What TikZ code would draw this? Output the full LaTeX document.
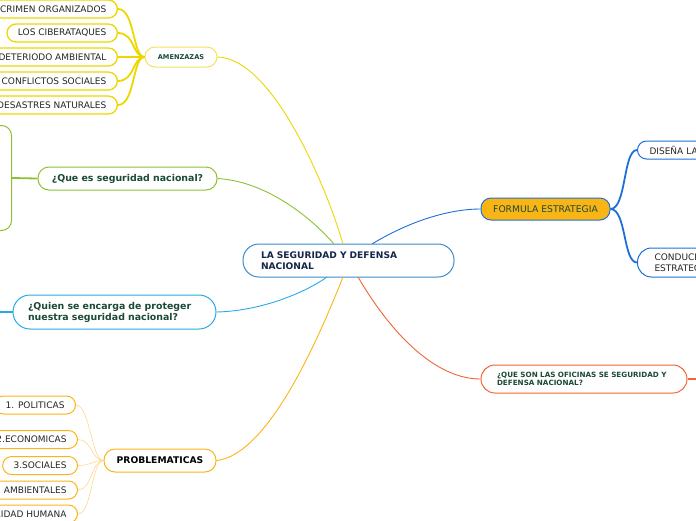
\documentclass[tikz,border=0pt]{standalone}
\usepackage{fontspec}
\setmainfont{DejaVu Sans}
\usetikzlibrary{positioning}

\definecolor{txtgreen}{HTML}{1B4A36}
\definecolor{txtnavy}{HTML}{16264A}
\definecolor{rootblue}{HTML}{3A8CCC}
\definecolor{amyellow}{HTML}{EED600}
\definecolor{amlight}{HTML}{F4E15A}
\definecolor{leafgreen}{HTML}{8CC232}
\definecolor{skyblue}{HTML}{2AAAE2}
\definecolor{proborange}{HTML}{FBB417}
\definecolor{problight}{HTML}{FFD68C}
\definecolor{redorange}{HTML}{F26434}
\definecolor{deepblue}{HTML}{1E6FD9}
\definecolor{formfill}{HTML}{F9B515}

\begin{document}
\begin{tikzpicture}[
	  x=1pt, y=-1pt,
	  box/.style={rectangle, rounded corners=#1, draw, fill=white, line width=1pt, inner ysep=0pt},
	  box/.default=9pt,
	  root/.style={box=16pt, draw=rootblue, minimum width=211pt, minimum height=33pt, inner xsep=18pt, text width=175pt, align=left, font=\fontsize{9.1}{11}\selectfont\bfseries, text=txtnavy},
	  amenleaf/.style={box, draw=amyellow, line width=1.3pt, minimum height=18pt, inner xsep=11pt, anchor=east, font=\fontsize{9}{10}\selectfont, text=black!85},
	  probleaf/.style={box, draw=proborange, minimum height=18pt, inner xsep=11pt, anchor=east, font=\fontsize{9}{10}\selectfont, text=black!85},
	  blueleaf/.style={box, draw=deepblue, anchor=west, align=left, font=\fontsize{9}{11}\selectfont, text=black!85},
	  branch/.style={line width=0.9pt},
	  twig/.style={line width=1.8pt}
	]

	\useasboundingbox (0,0) rectangle (696,520);
	\clip (0,0) rectangle (696,520);

	% central topic
	\node (root) [root] at (348.5,260.5) {LA SEGURIDAD Y DEFENSA\\NACIONAL};
	\coordinate (rootA) at (343,244);
	\coordinate (rootB) at (334,244);
	\coordinate (rootC) at (327,277);
	\coordinate (rootD) at (343,277);
	\coordinate (rootE) at (358,277);
	\coordinate (rootF) at (372,244);

	% amenazas
	\node (amen) [box=10pt, draw=amlight, minimum width=72pt, minimum height=20pt, font=\fontsize{6.6}{8}\selectfont\bfseries, text=txtgreen] at (181,57) {AMENZAZAS};
	\node (crimen) [amenleaf] at (118,9) {CRIMEN ORGANIZADOS};
	\node (ciber) [amenleaf] at (118,33) {LOS CIBERATAQUES};
	\node (deter) [amenleaf] at (118,57) {DETERIODO AMBIENTAL};
	\node (confl) [amenleaf] at (118,81) {CONFLICTOS SOCIALES};
	\node (desas) [amenleaf] at (118,105) {DESASTRES NATURALES};

	% que es
	\node (que) [box=11pt, draw=leafgreen, minimum width=179pt, minimum height=23pt, font=\fontsize{9.4}{11}\selectfont\bfseries, text=txtgreen] at (127.5,178.5) {¿Que es seguridad nacional?};
	\node (queinfo) [box=10pt, draw=leafgreen, anchor=east, minimum width=60pt, minimum height=105pt] at (12,178) {};

	% quien
	\node (quien) [box=17pt, draw=skyblue, minimum width=203pt, minimum height=34pt, inner xsep=15pt, text width=173pt, align=left, font=\fontsize{9.4}{11}\selectfont\bfseries, text=txtgreen] at (114.5,312) {¿Quien se encarga de proteger\\nuestra seguridad nacional?};
	\coordinate (quienout) at (-20,312);

	% problematicas
	\node (prob) [box=11pt, draw=proborange, minimum width=112pt, minimum height=23pt, font=\fontsize{9.2}{11}\selectfont\bfseries, text=black] at (160,460.5) {PROBLEMATICAS};
	\node (polit) [probleaf] at (76,405) {1. POLITICAS};
	\node (econ) [probleaf] at (78,439.5) {2.ECONOMICAS};
	\node (soci) [probleaf] at (78,465.5) {3.SOCIALES};
	\node (ambi) [probleaf] at (78,490) {4. AMBIENTALES};
	\node (huma) [probleaf] at (78,514) {5. SEGURIDAD HUMANA};

	% formula estrategia
	\node (formula) [box=10pt, draw=deepblue, fill=formfill, minimum width=129pt, minimum height=22pt, font=\fontsize{9.2}{11}\selectfont, text=txtgreen] at (545.5,209) {FORMULA ESTRATEGIA};
	\node (disena) [blueleaf, minimum height=18pt, inner xsep=12pt, text width=100pt] at (637,150) {DISEÑA LA};
	\node (conduce) [blueleaf, box=14pt, minimum height=29pt, inner xsep=17pt, text width=100pt] at (637,262.5) {CONDUCE\\ESTRATEGIA};

	% oficinas
	\node (ofic) [box=14pt, draw=redorange, minimum width=206pt, minimum height=28pt, inner xsep=16pt, text width=174pt, align=left, font=\fontsize{7.2}{8.6}\selectfont\bfseries, text=txtgreen] at (584,379) {¿QUE SON LAS OFICINAS SE SEGURIDAD Y\\DEFENSA NACIONAL?};
	\coordinate (oficout) at (720,379);

	% connectors to the central topic
	\draw [branch, amyellow] (amen.east) .. controls (272,58) and (326,185) .. (rootA);
	\draw [branch, leafgreen] (que.east) .. controls (262,181) and (306,212) .. (rootB);
	\draw [branch, skyblue] (quien.east) .. controls (262,311) and (306,292) .. (rootC);
	\draw [branch, proborange] (prob.east) .. controls (268,455) and (318,340) .. (rootD);
	\draw [branch, redorange] (rootE) .. controls (392,335) and (436,379) .. (ofic.west);
	\draw [branch, deepblue] (rootF) .. controls (408,222) and (448,209) .. (formula.west);

	% amenazas leaves
	\foreach \n in {crimen,ciber,deter,confl,desas}
	  \draw [twig, amyellow] (\n.east) .. controls +(17,0) and +(-12,0) .. (amen.west);

	% problematicas leaves
	\foreach \n in {polit,econ,soci,ambi,huma}
	  \draw [line width=0.6pt, problight] (\n.east) .. controls +(14,0) and +(-12,0) .. (prob.west);

	% formula leaves
	\draw [twig, deepblue] (formula.east) .. controls +(16,0) and +(-14,0) .. (disena.west);
	\draw [twig, deepblue] (formula.east) .. controls +(16,0) and +(-14,0) .. (conduce.west);

	% loose ends
	\draw [twig, leafgreen] (queinfo.east) -- (que.west);
	\draw [twig, skyblue] (quien.west) -- (quienout);
	\draw [twig, redorange] (ofic.east) -- (oficout);

	\end{tikzpicture}
\end{document}
